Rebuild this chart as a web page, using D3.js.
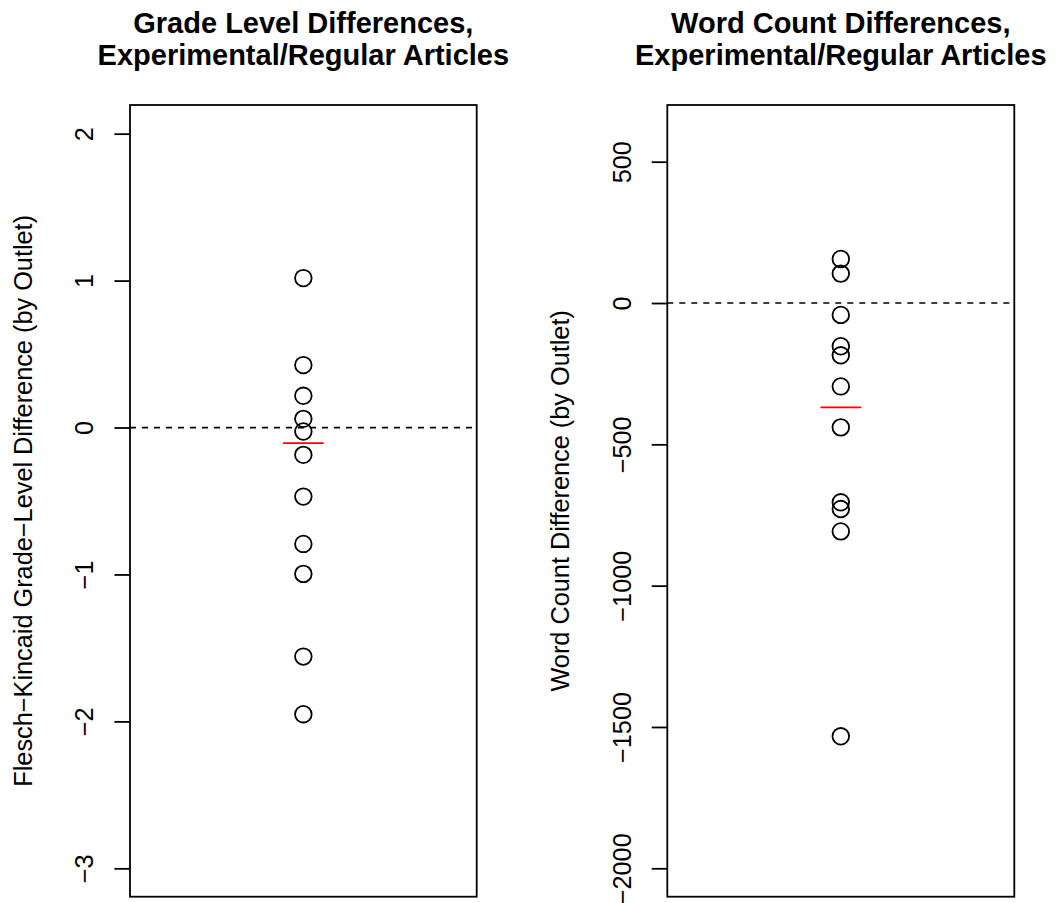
<!DOCTYPE html>
<html>
<head>
<meta charset="utf-8">
<script src="https://cdn.jsdelivr.net/npm/d3@7"></script>
<style>
  html, body { margin: 0; padding: 0; background: #ffffff; }
  svg { display: block; }
  text { font-family: "Liberation Sans", Arial, Helvetica, sans-serif; fill: #000; }
</style>
</head>
<body>
<svg id="chart" width="1062" height="903"></svg>
<script>
// ---- data ----
const gradeTitle = ["Grade Level Differences,", "Experimental/Regular Articles"];
const wordTitle = ["Word Count Differences,", "Experimental/Regular Articles"];
const gradeYLabel = "Flesch\u2212Kincaid Grade\u2212Level Difference (by Outlet)";
const wordYLabel = "Word Count Difference (by Outlet)";

const gradeDiff = [1.017, 0.425, 0.216, 0.059, -0.027, -0.186, -0.47, -0.792, -0.996, -1.559, -1.951];
const wordDiff = [156, 104, -42, -153, -185, -295, -440, -705, -729, -808, -1533];

const gradeRef = -0.106;
const wordRef = -369;

const gradeTicks = [-3, -2, -1, 0, 1, 2];
const gradeTickLabels = ["\u22123", "\u22122", "\u22121", "0", "1", "2"];
const wordTicks = [-2000, -1500, -1000, -500, 0, 500];
const wordTickLabels = ["\u22122000", "\u22121500", "\u22121000", "\u2212500", "0", "500"];

const gradeLim = [-3.193, 2.195];
const wordLim = [-2100.5, 700.6];

// ---- drawing ----
const svg = d3.select("#chart");
const plotTop = 105, plotBottom = 896.7;

function panel(opt) {
  const g = svg.append("g");
  const x = d3.scaleLinear().domain([0.46, 1.54]).range([opt.left, opt.right]);
  const y = d3.scaleLinear().domain(opt.lim).range([plotBottom, plotTop]);

  // reference line at 0
  g.append("line")
    .attr("x1", opt.left).attr("x2", opt.right)
    .attr("y1", y(0)).attr("y2", y(0))
    .attr("stroke", "#000").attr("stroke-width", 1.7)
    .attr("stroke-dasharray", "6,6");

  // points
  g.selectAll("circle.pt").data(opt.values).enter().append("circle")
    .attr("class", "pt")
    .attr("cx", x(1)).attr("cy", d => y(d))
    .attr("r", 8.3)
    .attr("fill", "none").attr("stroke", "#000").attr("stroke-width", 1.8);

  // red reference segment
  g.append("line")
    .attr("x1", x(1 - 0.0633)).attr("x2", x(1 + 0.0633))
    .attr("y1", y(opt.ref)).attr("y2", y(opt.ref))
    .attr("stroke", "#ff0000").attr("stroke-width", 1.8);

  // box
  g.append("rect")
    .attr("x", opt.left).attr("y", plotTop)
    .attr("width", opt.right - opt.left).attr("height", plotBottom - plotTop)
    .attr("fill", "none").attr("stroke", "#000").attr("stroke-width", 1.8);

  // axis
  const axis = d3.axisLeft(y)
    .tickValues(opt.ticks)
    .tickSize(15.6)
    .tickFormat((d, i) => opt.tickLabels[i]);
  const ag = g.append("g").attr("transform", `translate(${opt.left},0)`).call(axis);
  ag.select(".domain").remove();
  ag.selectAll(".tick line").attr("stroke", "#000").attr("stroke-width", 1.8);
  ag.selectAll(".tick text")
    .attr("x", 0).attr("dy", null).attr("y", -36.7)
    .attr("transform", "rotate(-90)")
    .attr("text-anchor", "middle")
    .attr("font-family", "Liberation Sans, Arial, sans-serif")
    .attr("font-size", 25.3)
    .attr("fill", "#000");

  // y label
  g.append("text")
    .attr("transform", `translate(${opt.left - 98},${(plotTop + plotBottom) / 2}) rotate(-90)`)
    .attr("text-anchor", "middle")
    .attr("font-size", 25.3)
    .text(opt.ylabel);

  // title
  const cx = (opt.left + opt.right) / 2;
  opt.title.forEach((t, i) => {
    g.append("text")
      .attr("x", cx).attr("y", 33.3 + i * 31.2)
      .attr("text-anchor", "middle")
      .attr("font-size", 29)
      .attr("font-weight", "bold")
      .text(t);
  });
}

panel({ left: 130, right: 476.7, lim: gradeLim, values: gradeDiff, ref: gradeRef,
        ticks: gradeTicks, tickLabels: gradeTickLabels, ylabel: gradeYLabel, title: gradeTitle });
panel({ left: 667.3, right: 1014.3, lim: wordLim, values: wordDiff, ref: wordRef,
        ticks: wordTicks, tickLabels: wordTickLabels, ylabel: wordYLabel, title: wordTitle });
</script>
</body>
</html>
